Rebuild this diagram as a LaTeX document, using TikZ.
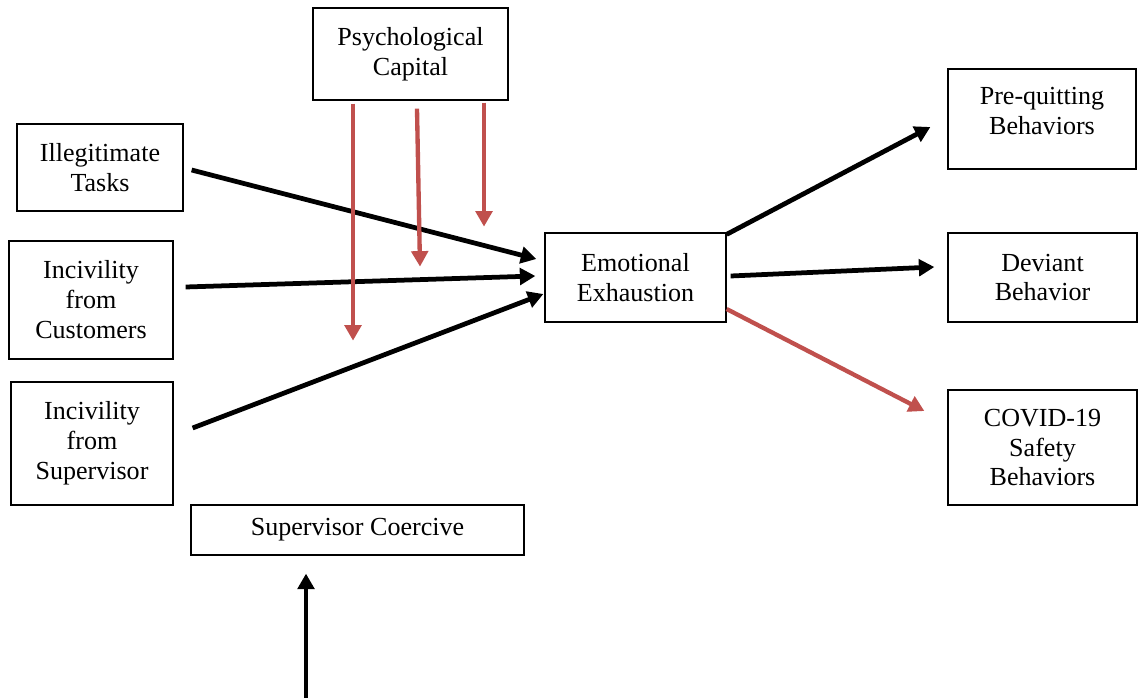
\documentclass[tikz,border=0pt]{standalone}
\usepackage{fontspec}
\setmainfont{Liberation Serif}
\usetikzlibrary{arrows.meta,calc}
\definecolor{rougefleche}{RGB}{192,80,77}
\begin{document}
\begin{tikzpicture}[x=0.017cm, y=-0.017cm,
  boite/.style={draw, line width=0.6pt, align=center, font=\fontsize{12.6pt}{14.5pt}\selectfont, inner sep=2pt},
  noire/.style={line width=2.3pt, -{Triangle[length=7.5pt,width=8pt]}},
  rouge/.style={line width=2.1pt, rougefleche, -{Triangle[length=7.5pt,width=8pt]}}]
\useasboundingbox (0,0) rectangle (1138,698);
% Modérateur
\node[boite, minimum width=3.315cm, minimum height=1.564cm] (psych) at (410.5,54) {Psychological\\Capital};
% Variables indépendantes
\node[boite, minimum width=2.822cm, minimum height=1.479cm] (illeg) at (100,167.5) {Illegitimate\\Tasks};
\node[boite, minimum width=2.788cm, minimum height=2.006cm] (cust) at (91,300) {Incivility\\from\\Customers};
\node[boite, minimum width=2.754cm, minimum height=2.091cm] (supv) at (92,443.5) {Incivility\\from\\Supervisor};
\node[boite, minimum width=5.661cm, minimum height=0.85cm] (coer) at (357.5,530) {Supervisor Coercive};
% Médiateur
\node[boite, minimum width=3.077cm, minimum height=1.513cm] (emo) at (635.5,277.5) {Emotional\\Exhaustion};
% Résultats
\node[boite, minimum width=3.196cm, minimum height=1.7cm] (preq) at (1042,119) {Pre-quitting\\Behaviors\\[-6.5pt]\mbox{}};
\node[boite, minimum width=3.213cm, minimum height=1.513cm] (dev) at (1042.5,277.5) {Deviant\\Behavior};
\node[boite, minimum width=3.213cm, minimum height=1.955cm] (covid) at (1042.5,447.5) {COVID-19\\Safety\\Behaviors};
% Extrémités libres
\coordinate (m1) at ($(psych.south)+(-57.5,240)$);
\coordinate (m2) at ($(psych.south)+(9.5,166)$);
\coordinate (m3) at ($(psych.south)+(73.5,126)$);
\coordinate (bas) at (306,698);
% Flèches vers l'épuisement
\draw[noire] ($(illeg.east)+(8,2.5)$) -- ($(emo.west)+(-8,-18.5)$);
\draw[noire] ($(cust.east)+(12,-13)$) -- ($(emo.west)+(-9,-1.5)$);
\draw[noire] ($(supv.east)+(19,-15.5)$) -- ($(emo.west)+(-1,16.5)$);
% Effets modérateurs
\draw[rouge] ($(psych.south)+(-57.5,3)$) -- (m1);
\draw[rouge] ($(psych.south)+(6.5,8)$) -- (m2);
\draw[rouge] ($(psych.south)+(73.5,2)$) -- (m3);
% Flèches vers les résultats
\draw[noire] ($(emo.north east)+(0,2)$) -- ($(preq.west)+(-17,8)$);
\draw[noire] ($(emo.east)+(4,-1.5)$) -- ($(dev.west)+(-13,-10.5)$);
\draw[rouge] ($(emo.east)+(0,31.5)$) -- ($(covid.west)+(-23,-36.5)$);
% Flèche du bas
\draw[noire] (bas) -- ($(coer.south)+(-51.5,18)$);
\end{tikzpicture}
\end{document}
